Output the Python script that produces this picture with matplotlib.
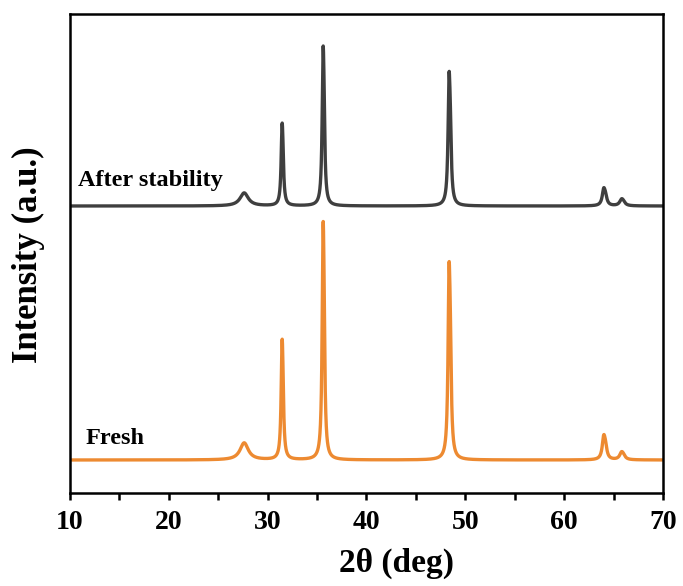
import numpy as np
import matplotlib.pyplot as plt

# peak positions (2theta, deg)
peak_pos = [27.6, 31.45, 35.6, 48.35, 64.0, 65.8]
peak_width = [1.0, 0.22, 0.22, 0.24, 0.35, 0.45]   # FWHM, deg
fresh_height = [17, 118, 234, 196, 25, 8]
after_height = [13, 81, 157, 133, 18, 7]
after_offset = 254

labels = ["Fresh", "After stability"]
colors = ["#ED8A31", "#3F3F3F"]


def pattern(x, pos, width, height):
    y = np.zeros_like(x, dtype=float)
    for p, w, h in zip(pos, width, height):
        # Ka1 + Ka2 doublet, lorentzian profile
        shift = np.degrees(2 * np.tan(np.radians(p / 2)) * 0.0025)
        y += h / (1 + ((x - p) / (w / 2)) ** 2)
        y += 0.5 * h / (1 + ((x - p - shift) / (w / 2)) ** 2)
    return y


def main():
    plt.rcParams["font.family"] = ["Liberation Serif", "DejaVu Serif"]
    plt.rcParams["font.weight"] = "bold"

    x = np.arange(10, 70.001, 0.01)

    # scale so each doublet peaks at the read-off height
    norm = np.array([pattern(np.array([p]), [p], [w], [1])[0]
                     for p, w in zip(peak_pos, peak_width)])
    fresh = pattern(x, peak_pos, peak_width, np.array(fresh_height) / norm)
    after = pattern(x, peak_pos, peak_width, np.array(after_height) / norm) + after_offset

    fig = plt.figure(figsize=(6.83, 5.86), dpi=100)
    ax = fig.add_axes([0.1025, 0.1587, 0.8682, 0.8174])

    ax.plot(x, fresh, color=colors[0], lw=2.4)
    ax.plot(x, after, color=colors[1], lw=2.4)

    ax.text(11.6, 16, labels[0], fontsize=17.5, fontweight="bold", va="baseline")
    ax.text(10.8, 274, labels[1], fontsize=17.5, fontweight="bold", va="baseline")

    ax.set_xlim(10, 70)
    ax.set_ylim(-33, 446)
    ax.set_xticks(range(10, 71, 10))
    ax.set_xticks(range(15, 70, 10), minor=True)
    ax.set_yticks([])
    ax.tick_params(axis="x", which="both", direction="out", length=5, width=1.8,
                   labelsize=20, pad=7)
    for s in ax.spines.values():
        s.set_linewidth(1.8)

    ax.set_xlabel("2θ (deg)", fontsize=24, fontweight="bold")
    ax.xaxis.set_label_coords(0.55, -0.114)
    ax.set_ylabel("Intensity (a.u.)", fontsize=25, fontweight="bold")
    ax.yaxis.set_label_coords(-0.043, 0.497)

    fig.savefig("out.png", dpi=100)


if __name__ == "__main__":
    main()
